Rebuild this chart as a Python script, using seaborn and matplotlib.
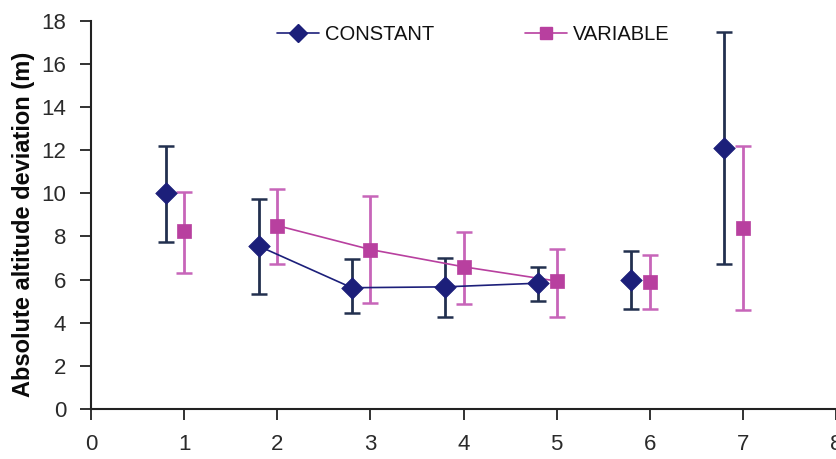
import matplotlib
matplotlib.use("Agg")
import matplotlib.pyplot as plt
from matplotlib.lines import Line2D
import numpy as np
import pandas as pd
import seaborn as sns

# Session number (x) for each measurement
sessions = [1, 2, 3, 4, 5, 6, 7]

# CONSTANT condition: mean and upper / lower whisker values
constant_mean = [10.0, 7.55, 5.62, 5.66, 5.83, 6.0, 12.1]
constant_high = [12.2, 9.75, 6.95, 7.0, 6.6, 7.33, 17.47]
constant_low = [7.72, 5.32, 4.44, 4.28, 5.0, 4.63, 6.7]

# VARIABLE condition: mean and upper / lower whisker values
variable_mean = [8.25, 8.5, 7.39, 6.59, 5.93, 5.9, 8.41]
variable_high = [10.06, 10.19, 9.88, 8.21, 7.41, 7.16, 12.18]
variable_low = [6.31, 6.7, 4.92, 4.86, 4.27, 4.62, 4.58]

# Sessions joined by a line
linked = [2, 3, 4, 5]

series_names = ["CONSTANT", "VARIABLE"]

sns.set_theme(style="white")
plt.rcParams["font.family"] = ["Liberation Sans", "DejaVu Sans"]

navy = "#1c1f7a"
navy_bar = "#22304f"
magenta = "#b8409f"
magenta_bar = "#c765b9"

df = pd.concat([
    pd.DataFrame({"session": sessions, "mean": constant_mean,
                  "high": constant_high, "low": constant_low,
                  "group": series_names[0]}),
    pd.DataFrame({"session": sessions, "mean": variable_mean,
                  "high": variable_high, "low": variable_low,
                  "group": series_names[1]}),
], ignore_index=True)
# constant markers sit slightly to the left of the session tick
df["xpos"] = df["session"] + np.where(df["group"] == "CONSTANT", -0.2, 0.0)

fig = plt.figure(figsize=(8.36, 4.59), dpi=100)
ax = fig.add_axes([0.109, 0.109, 0.891, 0.846])

styles = {
    "CONSTANT": dict(color=navy, bar=navy_bar, marker="D", size=11, lw=1.2),
    "VARIABLE": dict(color=magenta, bar=magenta_bar, marker="s", size=10, lw=1.2),
}

for name in series_names:
    st = styles[name]
    sub = df[df["group"] == name]
    ax.errorbar(sub["xpos"], sub["mean"],
                yerr=[sub["mean"] - sub["low"], sub["high"] - sub["mean"]],
                fmt="none", ecolor=st["bar"], elinewidth=2.0,
                capsize=6, capthick=1.8, zorder=2)
    seg = sub[sub["session"].isin(linked)]
    sns.lineplot(data=seg, x="xpos", y="mean", ax=ax, color=st["color"],
                 linewidth=st["lw"], sort=True, legend=False, zorder=3)
    sns.scatterplot(data=sub, x="xpos", y="mean", ax=ax, color=st["color"],
                    marker=st["marker"], s=st["size"] ** 2, edgecolor=st["color"],
                    linewidth=0.5, legend=False, zorder=4)

ax.set_xlim(0, 8)
ax.set_ylim(0, 18)
ax.set_xticks(range(0, 9))
ax.set_yticks(range(0, 19, 2))
ax.set_xlabel("")
ax.set_ylabel("Absolute altitude deviation (m)", fontsize=17, fontweight="bold",
              color="#0a0a0a")
ax.yaxis.set_label_coords(-0.076, 0.475)
ax.tick_params(axis="both", which="major", direction="out", length=8, width=1.3,
               color="#222222", labelsize=16, labelcolor="#2a2a2a",
               bottom=True, left=True)
ax.tick_params(axis="y", pad=10)
ax.tick_params(axis="x", pad=10)
for side in ["top", "right"]:
    ax.spines[side].set_visible(False)
for side in ["left", "bottom"]:
    ax.spines[side].set_color("#222222")
    ax.spines[side].set_linewidth(1.5)

handles = [
    Line2D([0], [0], color=navy, lw=1.2, marker="D", markersize=9,
           markerfacecolor=navy, markeredgecolor=navy),
    Line2D([0], [0], color=magenta, lw=1.2, marker="s", markersize=9,
           markerfacecolor=magenta, markeredgecolor=magenta),
]
ax.legend(handles, series_names, loc="upper left", bbox_to_anchor=(0.225, 1.035),
          ncol=2, frameon=False, fontsize=14.5, handlelength=2.1,
          handletextpad=0.3, columnspacing=4.5, labelcolor="#111111")

fig.savefig("out.png", dpi=100)
